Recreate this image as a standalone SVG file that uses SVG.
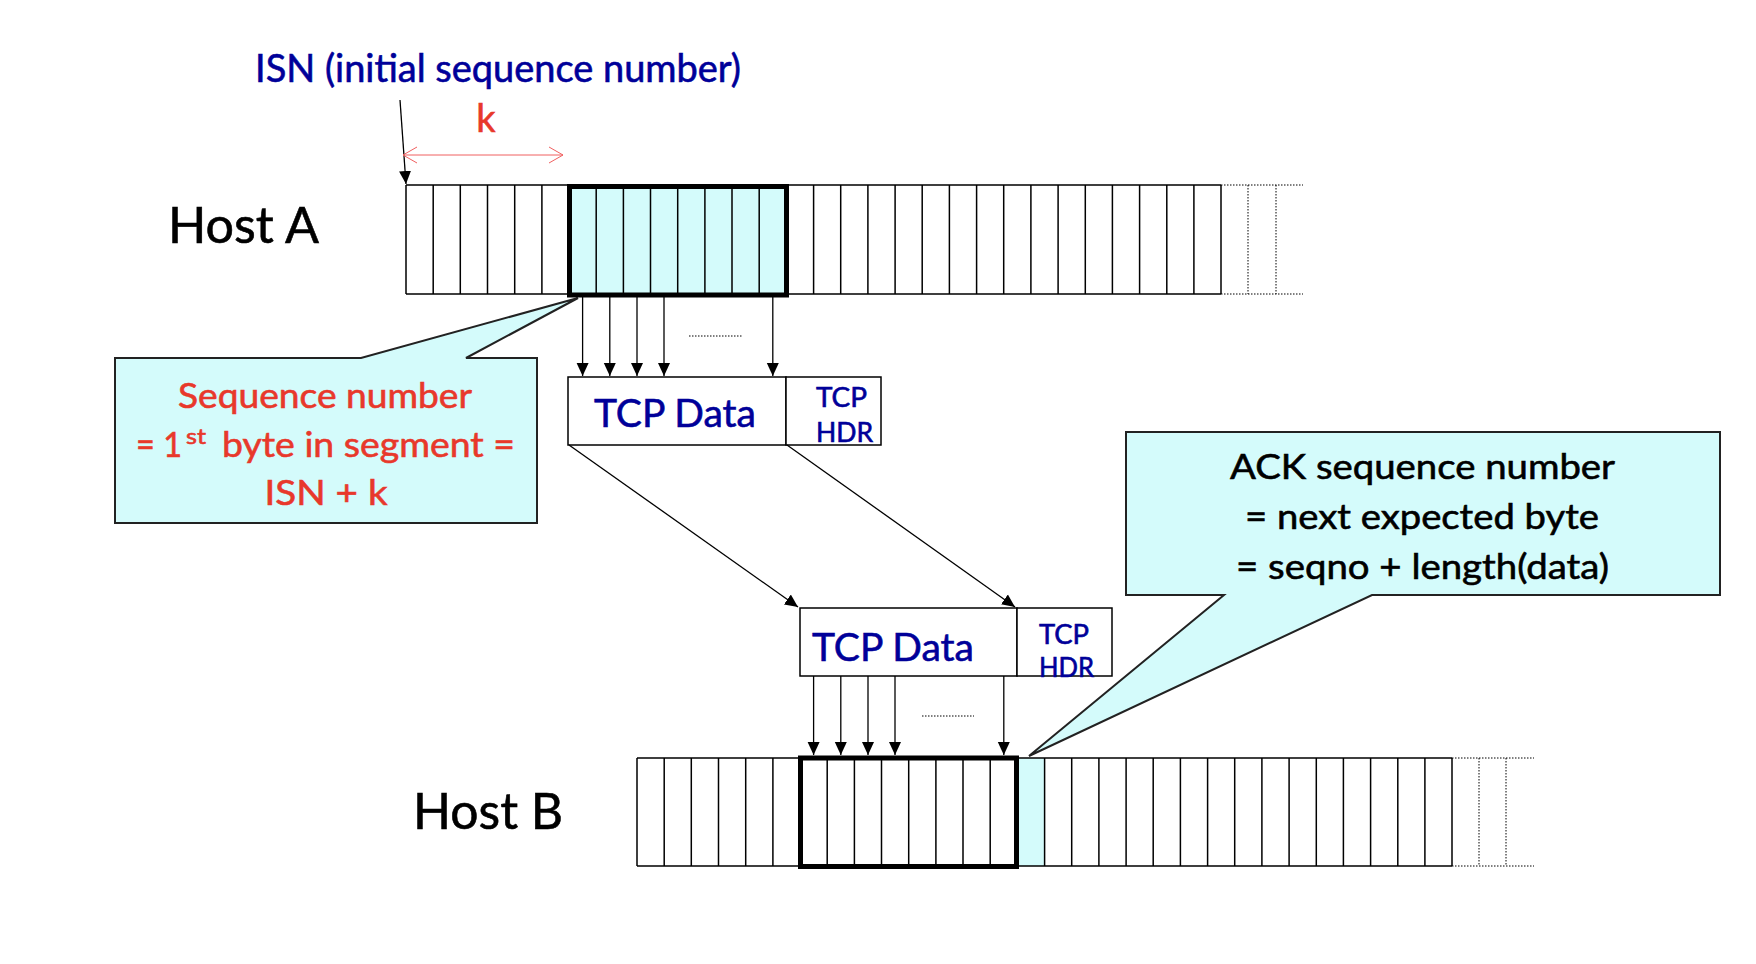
<svg xmlns="http://www.w3.org/2000/svg" width="1756" height="964" viewBox="0 0 1756 964">
<style>
text{font-family:Lato,"Open Sans","Liberation Sans",sans-serif;stroke-width:0.6}
.blue{fill:#000099;stroke:#000099}
.red{fill:#E8382B;stroke:#E8382B}
.blk{fill:#000;stroke:#000}
.cell{stroke:#000;stroke-width:1.5;fill:none}
.dot{stroke:#000;stroke-width:1;stroke-dasharray:1.5 1.5;fill:none}
.thick{stroke:#000;stroke-width:5;fill:none}
.arr{stroke:#000;stroke-width:1.3;fill:none;marker-end:url(#ah)}
.call{fill:#D4FBFB;stroke:#222;stroke-width:2}
</style>
<defs>
<marker id="ah" markerUnits="userSpaceOnUse" markerWidth="14" markerHeight="14" viewBox="0 0 14 14" refX="13" refY="7" orient="auto">
<path d="M0,1 L13,7 L0,13 Z" fill="#000"/>
</marker>
<marker id="oh" markerUnits="userSpaceOnUse" markerWidth="16" markerHeight="18" viewBox="0 0 16 18" refX="15" refY="9" orient="auto-start-reverse">
<path d="M1,1 L15,9 L1,17" fill="none" stroke="#F06060" stroke-width="1"/>
</marker>
</defs>

<!-- Labels -->
<g id="isn-label">
<text x="255" y="82" font-size="38" class="blue" textLength="486" lengthAdjust="spacingAndGlyphs">ISN (initial sequence number)</text>
</g>
<g id="k-label">
<text x="486" y="132" font-size="38" class="red" text-anchor="middle">k</text>
</g>
<g id="hostA-label">
<text x="168" y="243" font-size="51" class="blk" textLength="151" lengthAdjust="spacingAndGlyphs">Host A</text>
</g>
<g id="hostB-label">
<text x="413" y="829" font-size="51" class="blk" textLength="150" lengthAdjust="spacingAndGlyphs">Host B</text>
</g>

<!-- Host A buffer -->
<g id="hostA-buffer">
<rect x="569" y="185" width="217.4" height="109" fill="#D4FBFB"/>
<path class="cell" d="M406,185 H1221 M406,294 H1221 M406,185 V294 M433.2,185 V294 M460.3,185 V294 M487.5,185 V294 M514.7,185 V294 M541.9,185 V294 M569,185 V294 M596.2,185 V294 M623.4,185 V294 M650.5,185 V294 M677.7,185 V294 M704.9,185 V294 M732,185 V294 M759.2,185 V294 M786.4,185 V294 M813.6,185 V294 M840.7,185 V294 M867.9,185 V294 M895.1,185 V294 M922.2,185 V294 M949.4,185 V294 M976.6,185 V294 M1003.7,185 V294 M1030.9,185 V294 M1058.1,185 V294 M1085.3,185 V294 M1112.4,185 V294 M1139.6,185 V294 M1166.8,185 V294 M1193.9,185 V294 M1221,185 V294"/>
<path class="dot" d="M1221,185 H1303 M1221,294 H1303 M1248,185 V294 M1276,185 V294"/>
<rect class="thick" x="569.5" y="186.5" width="217" height="108.5"/>
</g>

<!-- Host B buffer -->
<g id="hostB-buffer">
<rect x="1017.4" y="758" width="27.2" height="108" fill="#D4FBFB"/>
<path class="cell" d="M637,758 H1452 M637,866 H1452 M637,758 V866 M664.2,758 V866 M691.3,758 V866 M718.5,758 V866 M745.7,758 V866 M772.9,758 V866 M800,758 V866 M827.2,758 V866 M854.4,758 V866 M881.5,758 V866 M908.7,758 V866 M935.9,758 V866 M963,758 V866 M990.2,758 V866 M1017.4,758 V866 M1044.6,758 V866 M1071.7,758 V866 M1098.9,758 V866 M1126.1,758 V866 M1153.2,758 V866 M1180.4,758 V866 M1207.6,758 V866 M1234.7,758 V866 M1261.9,758 V866 M1289.1,758 V866 M1316.3,758 V866 M1343.4,758 V866 M1370.6,758 V866 M1397.8,758 V866 M1424.9,758 V866 M1452,758 V866"/>
<path class="dot" d="M1452,758 H1534 M1452,866 H1534 M1479,758 V866 M1506,758 V866"/>
<rect class="thick" x="800.5" y="758" width="216" height="108.5"/>
</g>

<!-- Segment 1 -->
<g id="segment1">
<rect x="568" y="377" width="218" height="68" fill="#fff" stroke="#000" stroke-width="1.5"/>
<rect x="786" y="377" width="95" height="68" fill="#fff" stroke="#000" stroke-width="1.5"/>
<text x="594" y="427" font-size="39" class="blue" textLength="162" lengthAdjust="spacingAndGlyphs">TCP Data</text>
<text x="816" y="407" font-size="26" class="blue" textLength="51" lengthAdjust="spacingAndGlyphs">TCP</text>
<text x="816" y="442" font-size="26" class="blue" textLength="57" lengthAdjust="spacingAndGlyphs">HDR</text>
</g>

<!-- Segment 2 -->
<g id="segment2">
<rect x="800" y="608" width="217" height="68" fill="#fff" stroke="#000" stroke-width="1.5"/>
<rect x="1017" y="608" width="95" height="68" fill="#fff" stroke="#000" stroke-width="1.5"/>
<text x="812" y="661" font-size="39" class="blue" textLength="162" lengthAdjust="spacingAndGlyphs">TCP Data</text>
<text x="1039" y="644" font-size="26" class="blue" textLength="50" lengthAdjust="spacingAndGlyphs">TCP</text>
<text x="1039" y="677" font-size="26" class="blue" textLength="55" lengthAdjust="spacingAndGlyphs">HDR</text>
</g>

<!-- Callouts -->
<g id="callout-seq">
<path class="call" d="M115,358 L361,358 L578,298 L466,358 L537,358 L537,523 L115,523 Z"/>
<text x="178" y="408" font-size="35" class="red" textLength="294" lengthAdjust="spacingAndGlyphs">Sequence number</text>
<text x="136" y="457" font-size="35" class="red" textLength="46" lengthAdjust="spacingAndGlyphs">= 1</text>
<text x="186" y="444" font-size="22" class="red" textLength="20" lengthAdjust="spacingAndGlyphs">st</text>
<text x="222" y="457" font-size="35" class="red" textLength="293" lengthAdjust="spacingAndGlyphs">byte in segment =</text>
<text x="326" y="505" font-size="35" class="red" text-anchor="middle" textLength="123" lengthAdjust="spacingAndGlyphs">ISN + k</text>
</g>

<g id="callout-ack">
<path class="call" d="M1126,432 L1720,432 L1720,595 L1372,595 L1029,756 L1224,595 L1126,595 Z"/>
<text x="1230" y="479" font-size="35" class="blk" textLength="385" lengthAdjust="spacingAndGlyphs">ACK sequence number</text>
<text x="1245" y="529" font-size="35" class="blk" textLength="354" lengthAdjust="spacingAndGlyphs">= next expected byte</text>
<text x="1236" y="579" font-size="35" class="blk" textLength="373" lengthAdjust="spacingAndGlyphs">= seqno + length(data)</text>
</g>

<!-- Connectors -->
<g id="connectors">
<line x1="400" y1="100" x2="406" y2="184" class="arr"/>
<line x1="403" y1="155" x2="563" y2="155" stroke="#F06060" stroke-width="1" marker-start="url(#oh)" marker-end="url(#oh)"/>
<line x1="582.6" y1="297" x2="582.6" y2="376" class="arr"/>
<line x1="609.8" y1="297" x2="609.8" y2="376" class="arr"/>
<line x1="637" y1="297" x2="637" y2="376" class="arr"/>
<line x1="664" y1="297" x2="664" y2="376" class="arr"/>
<line x1="772.8" y1="297" x2="772.8" y2="376" class="arr"/>
<line x1="689" y1="336" x2="742" y2="336" class="dot"/>
<line x1="569" y1="445" x2="798" y2="607" class="arr"/>
<line x1="787" y1="445" x2="1015" y2="607" class="arr"/>
<line x1="813.6" y1="676" x2="813.6" y2="755" class="arr"/>
<line x1="840.8" y1="676" x2="840.8" y2="755" class="arr"/>
<line x1="868" y1="676" x2="868" y2="755" class="arr"/>
<line x1="895" y1="676" x2="895" y2="755" class="arr"/>
<line x1="1003.8" y1="676" x2="1003.8" y2="755" class="arr"/>
<line x1="922" y1="716" x2="974" y2="716" class="dot"/>
</g>
</svg>
